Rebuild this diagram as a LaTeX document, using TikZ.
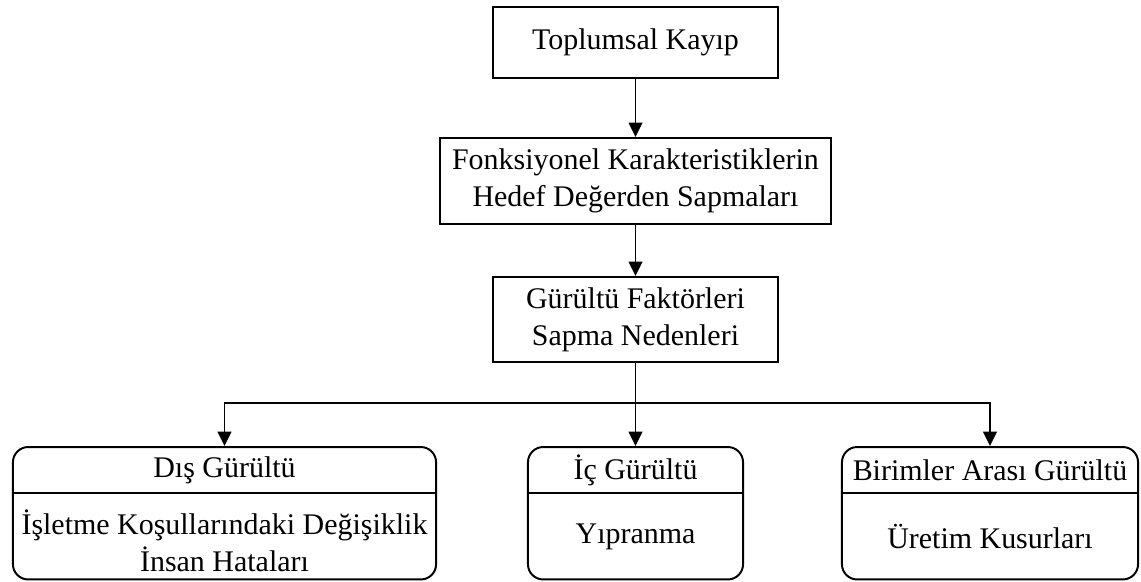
\documentclass[tikz,border=0pt]{standalone}
\usepackage{fontspec}
\setmainfont{Liberation Serif}
\usetikzlibrary{arrows.meta,positioning}
\tikzset{
  box/.style={draw, line width=1.4pt, inner sep=0pt, align=center},
  group/.style={box, rounded corners=0.38cm, minimum height=3.31cm},
  link/.style={line width=1.4pt, -{Triangle[length=0.36cm, width=0.34cm]}}
}

\begin{document}
\begin{tikzpicture}[x=0.025cm, y=0.025cm, font=\fontsize{21.3pt}{26.3pt}\selectfont]
  \useasboundingbox (0,0) rectangle (1141,581);
  % chain
  \node[box, minimum width=7.125cm, minimum height=1.775cm] (loss) at (635.5,538.5) {Toplumsal Kayıp};
  \node[box, minimum width=9.75cm, minimum height=2.15cm] (dev) at (635.5,400) {Fonksiyonel Karakteristiklerin\\Hedef Değerden Sapmaları};
  \node[box, minimum width=7.125cm, minimum height=2.125cm] (noise) at (635.5,261.5) {Gürültü Faktörleri\\Sapma Nedenleri};
  % noise groups
  \node[group, minimum width=10.575cm] (ext) at (224.5,67.75) {};
  \node[group, minimum width=5.375cm] (inner) at (635.5,67.75) {};
  \node[group, minimum width=7.4cm] (unit) at (990,67.75) {};
  \foreach \g in {ext,inner,unit}
    \draw[line width=1.4pt] (\g.west |- 0,88) -- (\g.east |- 0,88);
  \node (extT) at (ext.north |- 0,111) {Dış Gürültü};
  \node (innerT) at (inner.north |- 0,111) {İç Gürültü};
  \node (unitT) at (unit.north |- 0,111) {Birimler Arası Gürültü};
  \node[align=center] (extB) at (ext.north |- 0,40) {İşletme Koşullarındaki Değişiklik\\İnsan Hataları};
  \node (innerB) at (inner.north |- 0,44) {Yıpranma};
  \node (unitB) at (unit.north |- 0,44) {Üretim Kusurları};
  % connectors
  \coordinate (split) at (635.5,178);
  \draw[link] (loss) -- (dev);
  \draw[link] (dev) -- (noise);
  \draw[line width=1.4pt] (noise) -- (split);
  \draw[link] (split) -| (ext);
  \draw[link] (split) -- (inner);
  \draw[link] (split) -| (unit);
\end{tikzpicture}
\end{document}
